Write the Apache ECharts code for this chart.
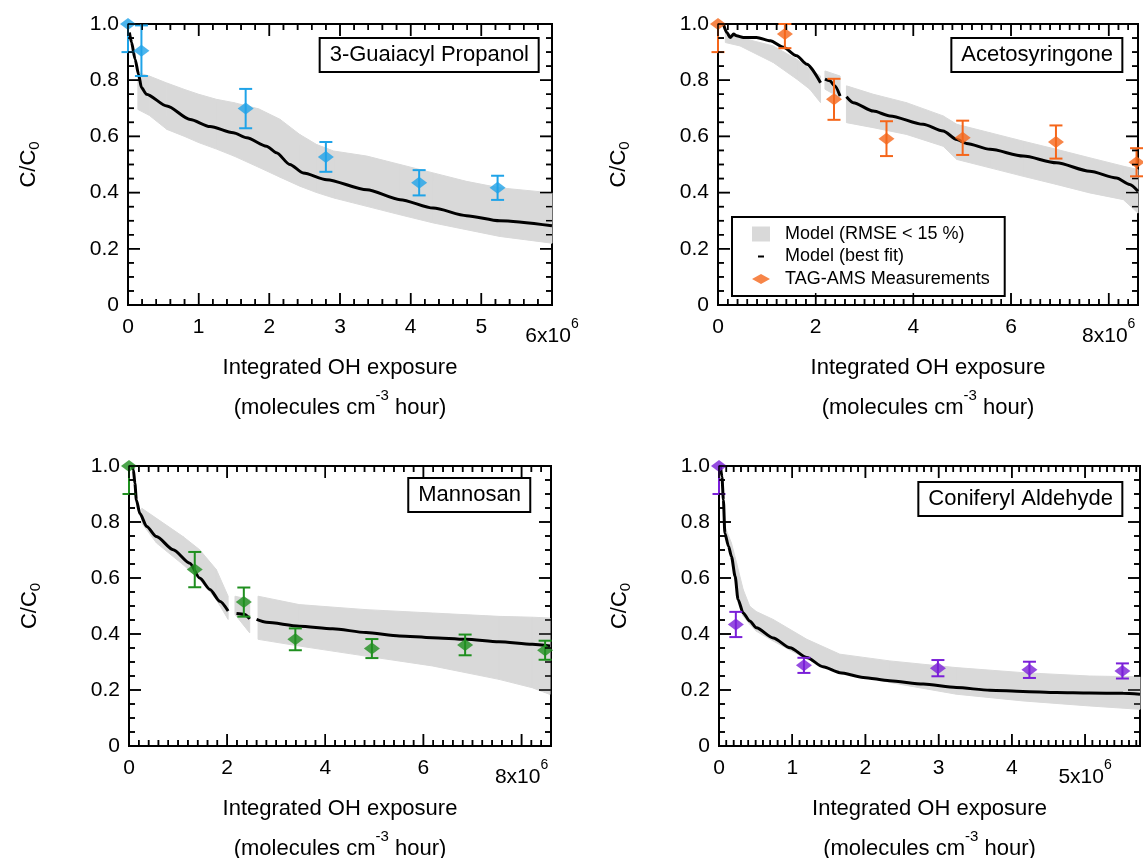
<!DOCTYPE html>
<html>
<head>
<meta charset="utf-8">
<script src="https://cdn.jsdelivr.net/npm/echarts@6/dist/echarts.min.js"></script>
<style>html,body{margin:0;padding:0;background:#fff}#c{width:1143px;height:858px;background:#fff}</style>
</head>
<body>
<div id="c"></div>
<script>
// ---------------- DATA (x in units of 1e6 molecules cm^-3 hour) ----------------
// Panel 1: 3-Guaiacyl Propanol
const gpLineX = [0.02, 0.05, 0.1, 0.15, 0.19, 0.26, 0.55, 0.88, 1.16, 1.49, 1.68, 1.96, 2.1, 2.29, 2.48, 2.81, 3.38, 3.85, 4.32, 4.79, 5.26, 6.0];
const gpLineY = [0.97, 0.935, 0.875, 0.82, 0.774, 0.75, 0.708, 0.66, 0.635, 0.613, 0.595, 0.565, 0.542, 0.5, 0.47, 0.446, 0.41, 0.375, 0.345, 0.318, 0.3, 0.282];
const gpBandX  = [0.14, 0.3, 0.55, 0.8, 1.0, 1.25, 1.5, 1.85, 2.15, 2.43, 2.67, 2.91, 3.38, 3.85, 4.32, 4.79, 5.26, 6.0];
const gpBandHi = [0.827, 0.815, 0.79, 0.767, 0.75, 0.732, 0.72, 0.698, 0.661, 0.607, 0.571, 0.548, 0.53, 0.5, 0.47, 0.44, 0.417, 0.399];
const gpBandLo = [0.696, 0.675, 0.625, 0.6, 0.578, 0.555, 0.53, 0.49, 0.455, 0.423, 0.4, 0.381, 0.351, 0.321, 0.292, 0.268, 0.244, 0.22];
const gpMeasX   = [0, 0.19, 1.665, 2.8, 4.12, 5.23];
const gpMeasY   = [1.0, 0.905, 0.699, 0.527, 0.435, 0.417];
const gpMeasErr = [0.1, 0.09, 0.07, 0.053, 0.045, 0.043];

// Panel 2: Acetosyringone (null = gap)
const asLineX = [0.11, 0.18, 0.25, 0.32, 0.38, 0.52, 0.79, 1.07, 1.34, 1.61, 1.82, 2.1, null, 2.19, 2.29, 2.39, 2.5, null, 2.63, 2.77, 3.18, 3.52, 4.2, 4.61, 4.89, 5.09, 5.57, 6.25, 6.93, 7.61, 8.16, 8.43, 8.6];
const asLineY = [1.0, 0.97, 0.952, 0.964, 0.958, 0.952, 0.952, 0.94, 0.917, 0.887, 0.857, 0.791, null, 0.804, 0.798, 0.78, 0.744, null, 0.741, 0.72, 0.69, 0.673, 0.643, 0.619, 0.589, 0.575, 0.554, 0.53, 0.506, 0.476, 0.452, 0.429, 0.405];
const asBandX  = [0.15, 0.45, 1.13, 1.61, 1.88, 2.1, null, 2.19, 2.5, null, 2.63, 3.18, 3.86, 4.61, 4.89, 5.57, 6.25, 6.93, 7.61, 8.3, 8.6];
const asBandHi = [0.97, 0.952, 0.922, 0.875, 0.839, 0.815, null, 0.833, 0.815, null, 0.78, 0.75, 0.72, 0.673, 0.643, 0.613, 0.583, 0.554, 0.524, 0.494, 0.482];
const asBandLo = [0.934, 0.922, 0.863, 0.804, 0.768, 0.72, null, 0.768, 0.738, null, 0.649, 0.631, 0.607, 0.565, 0.518, 0.488, 0.458, 0.429, 0.399, 0.375, 0.327];
const asMeasX   = [0, 1.37, 2.375, 3.45, 5.01, 6.92, 8.57];
const asMeasY   = [1.0, 0.964, 0.732, 0.592, 0.595, 0.58, 0.508];
const asMeasErr = [0.1, 0.05, 0.073, 0.062, 0.061, 0.059, 0.05];

// Panel 3: Mannosan
const mnLineX = [0.07, 0.09, 0.12, 0.15, 0.22, 0.36, 0.56, 0.9, 1.24, 1.44, 1.65, 1.85, 2.02, null, 2.19, 2.36, 2.46, null, 2.6, 2.8, 3.47, 4.15, 4.83, 5.51, 6.18, 6.86, 7.54, 8.22, 8.58];
const mnLineY = [1.0, 0.986, 0.938, 0.879, 0.831, 0.784, 0.748, 0.701, 0.653, 0.6, 0.559, 0.517, 0.482, null, 0.473, 0.47, 0.454, null, 0.452, 0.442, 0.428, 0.419, 0.405, 0.393, 0.387, 0.381, 0.372, 0.363, 0.357];
const mnBandX  = [0.26, 0.56, 1.1, 1.44, 1.78, 2.02, null, 2.16, 2.46, null, 2.63, 3.47, 4.83, 6.18, 7.54, 8.22, 8.58];
const mnBandHi = [0.849, 0.813, 0.748, 0.701, 0.63, 0.535, null, 0.535, 0.523, null, 0.535, 0.505, 0.487, 0.475, 0.463, 0.46, 0.457];
const mnBandLo = [0.796, 0.725, 0.648, 0.594, 0.523, 0.452, null, 0.47, 0.404, null, 0.381, 0.357, 0.321, 0.286, 0.238, 0.208, 0.184];
const mnMeasX   = [0, 1.34, 2.34, 3.39, 4.95, 6.85, 8.48];
const mnMeasY   = [1.0, 0.63, 0.514, 0.381, 0.348, 0.361, 0.342];
const mnMeasErr = [0.1, 0.063, 0.052, 0.039, 0.034, 0.037, 0.034];

// Panel 4: Coniferyl Aldehyde
const caLineX = [0.02, 0.04, 0.06, 0.08, 0.13, 0.17, 0.22, 0.26, 0.33, 0.42, 0.51, 0.74, 0.97, 1.2, 1.42, 1.65, 1.97, 2.33, 2.79, 3.24, 3.7, 4.15, 4.61, 5.06, 5.52, 5.75];
const caLineY = [1.0, 0.962, 0.879, 0.76, 0.713, 0.677, 0.606, 0.523, 0.475, 0.446, 0.422, 0.386, 0.351, 0.316, 0.283, 0.262, 0.245, 0.233, 0.221, 0.209, 0.199, 0.195, 0.191, 0.189, 0.188, 0.185];
const caBandX  = [0.08, 0.17, 0.24, 0.33, 0.42, 0.51, 0.74, 1.2, 1.65, 2.33, 3.24, 4.15, 5.06, 5.75];
const caBandHi = [0.784, 0.725, 0.654, 0.559, 0.499, 0.48, 0.452, 0.381, 0.328, 0.304, 0.28, 0.262, 0.25, 0.247];
const caBandLo = [0.748, 0.689, 0.559, 0.464, 0.435, 0.41, 0.375, 0.31, 0.268, 0.227, 0.185, 0.161, 0.143, 0.131];
const caMeasX   = [0, 0.23, 1.16, 2.99, 4.24, 5.51];
const caMeasY   = [1.0, 0.434, 0.288, 0.278, 0.272, 0.268];
const caMeasErr = [0.1, 0.045, 0.027, 0.029, 0.029, 0.027];

// Tick labels
const yTicks = [0, 0.2, 0.4, 0.6, 0.8, 1.0];
const gpXTicks = [0, 1, 2, 3, 4, 5, 6];
const asXTicks = [0, 2, 4, 6, 8];
const mnXTicks = [0, 2, 4, 6, 8];
const caXTicks = [0, 1, 2, 3, 4, 5];
const xExponent = '6';

const titles = ['3-Guaiacyl Propanol', 'Acetosyringone', 'Mannosan', 'Coniferyl Aldehyde'];
const legendNames = ['Model (RMSE < 15 %)', 'Model (best fit)', 'TAG-AMS Measurements'];

// ---------------- STYLE / LAYOUT ----------------
const FONT = 'Liberation Sans';
const BAND = '#d9d9d9';
const colors = ['#1fa3e8', '#f5661a', '#1f8f1f', '#7a1fd8'];
const MAJOR_LEN = 12, MINOR_LEN = 6;

const panels = [
  { grid: {left: 128, top: 24, width: 424, height: 281}, xMax: 6.0,  xTicks: gpXTicks, xMajor: 1, xMinor: 0.2,
    lineX: gpLineX, lineY: gpLineY, bandX: gpBandX, bandHi: gpBandHi, bandLo: gpBandLo, mX: gpMeasX, mY: gpMeasY, mE: gpMeasErr,
    title: {right: 604, top: 38} },
  { grid: {left: 718, top: 24, width: 420, height: 281}, xMax: 8.6,  xTicks: asXTicks, xMajor: 2, xMinor: 0.2,
    lineX: asLineX, lineY: asLineY, bandX: asBandX, bandHi: asBandHi, bandLo: asBandLo, mX: asMeasX, mY: asMeasY, mE: asMeasErr,
    title: {right: 20, top: 38} },
  { grid: {left: 129, top: 466, width: 422, height: 280}, xMax: 8.6, xTicks: mnXTicks, xMajor: 2, xMinor: 0.2,
    lineX: mnLineX, lineY: mnLineY, bandX: mnBandX, bandHi: mnBandHi, bandLo: mnBandLo, mX: mnMeasX, mY: mnMeasY, mE: mnMeasErr,
    title: {right: 612, top: 478} },
  { grid: {left: 719, top: 466, width: 421, height: 280}, xMax: 5.75, xTicks: caXTicks, xMajor: 1, xMinor: 0.1,
    lineX: caLineX, lineY: caLineY, bandX: caBandX, bandHi: caBandHi, bandLo: caBandLo, mX: caMeasX, mY: caMeasY, mE: caMeasErr,
    title: {right: 20, top: 482} }
];

function range(a, b, step) {
  const out = [];
  const n = Math.floor((b - a) / step + 1e-6);
  for (let i = 0; i <= n; i++) out.push(+(a + i * step).toFixed(6));
  return out;
}

function xAxisFor(g, p) {
  const last = p.xTicks[p.xTicks.length - 1];
  const isMajor = v => p.xTicks.some(m => Math.abs(m - v) < 1e-6);
  return {
    type: 'value', gridIndex: g, min: 0, max: p.xMax, interval: p.xMajor, position: 'bottom',
    splitLine: {show: false}, axisLine: {show: false, onZero: false}, axisTick: {show: false},
    axisLabel: {
      show: true, color: '#000', fontFamily: FONT, fontSize: 21, margin: 12,
      formatter: v => !isMajor(v) ? '' :
        (Math.abs(v - last) < 1e-9 ? '{b|' + v + 'x10}{s|' + xExponent + '}' : String(v)),
      rich: {
        b: {fontFamily: FONT, fontSize: 21, color: '#000', padding: [9, 0, 0, 0]},
        s: {fontFamily: FONT, fontSize: 14, color: '#000', verticalAlign: 'top'}
      }
    },
    name: 'Integrated OH exposure\n(molecules cm{sup|-3} hour)',
    nameLocation: 'middle', nameGap: 43,
    nameTextStyle: {
      fontFamily: FONT, fontSize: 22, color: '#000', lineHeight: 40,
      rich: { sup: {fontFamily: FONT, fontSize: 15, color: '#000', verticalAlign: 'top', lineHeight: 14} }
    }
  };
}

function yAxisFor(g) {
  const isMajor = v => yTicks.some(m => Math.abs(m - v) < 1e-6);
  return {
    type: 'value', gridIndex: g, min: 0, max: 1, interval: 0.2, position: 'left',
    splitLine: {show: false}, axisLine: {show: false, onZero: false}, axisTick: {show: false},
    axisLabel: {
      show: true, color: '#000', fontFamily: FONT, fontSize: 21, margin: 9,
      formatter: v => !isMajor(v) ? '' : (v === 0 ? '0' : v.toFixed(1))
    },
    name: 'C/C{sub|0}', nameLocation: 'middle', nameRotate: 90, nameGap: 86,
    nameTextStyle: {
      fontFamily: FONT, fontSize: 22, color: '#000', lineHeight: 26,
      rich: { sub: {fontFamily: FONT, fontSize: 15, color: '#000', verticalAlign: 'bottom', lineHeight: 14} }
    }
  };
}

// tick marks on all four sides, pointing inward: items [x, y, length, direction]
function tickData(p) {
  const out = [];
  const xMaj = range(0, p.xMax, p.xMajor);
  const xMin = range(0, p.xMax, p.xMinor).filter(v => !xMaj.some(m => Math.abs(m - v) < 1e-6));
  const yMaj = range(0, 1, 0.2);
  const yMin = range(0, 1, 0.05).filter(v => !yMaj.some(m => Math.abs(m - v) < 1e-6));
  xMaj.forEach(v => { out.push([v, 0, MAJOR_LEN, 0]); out.push([v, 1, MAJOR_LEN, 1]); });
  xMin.forEach(v => { out.push([v, 0, MINOR_LEN, 0]); out.push([v, 1, MINOR_LEN, 1]); });
  yMaj.forEach(v => { out.push([0, v, MAJOR_LEN, 2]); out.push([p.xMax, v, MAJOR_LEN, 3]); });
  yMin.forEach(v => { out.push([0, v, MINOR_LEN, 2]); out.push([p.xMax, v, MINOR_LEN, 3]); });
  return out;
}
const DIRS = [[0, -1], [0, 1], [1, 0], [-1, 0]];

function tickLine(pt, t) {
  const d = DIRS[Math.round(t[3])];
  return {
    type: 'line',
    shape: {x1: pt[0], y1: pt[1], x2: pt[0] + d[0] * t[2], y2: pt[1] + d[1] * t[2]},
    style: {stroke: '#000', lineWidth: 1.5}
  };
}

function tickRender(params, api) {
  const t = [api.value(0), api.value(1), api.value(2), api.value(3)];
  return tickLine(api.coord([t[0], t[1]]), t);
}

function bandRender(X, LO, HI, ticks) {
  return function (params, api) {
    const i = params.dataIndex;
    const ch = [];
    if (i + 1 < X.length && X[i] != null && X[i + 1] != null) {
      const pts = [
        api.coord([X[i], LO[i]]), api.coord([X[i + 1], LO[i + 1]]),
        api.coord([X[i + 1], HI[i + 1]]), api.coord([X[i], HI[i]])
      ];
      ch.push({type: 'polygon', shape: {points: pts}, style: {fill: BAND, stroke: BAND, lineWidth: 1}});
    }
    if (i === 0) ticks.forEach(t => ch.push(tickLine(api.coord([t[0], t[1]]), t)));
    return ch.length ? {type: 'group', children: ch} : null;
  };
}

function errRender(color, yMax) {
  return function (params, api) {
    const x = api.value(0), y = api.value(1), e = api.value(2);
    let hi = y + e;
    const lo = y - e;
    const capHi = hi <= yMax + 0.04;
    hi = Math.min(hi, yMax);
    const pH = api.coord([x, hi]), pL = api.coord([x, lo]);
    const w = 6.5;
    const st = {stroke: color, lineWidth: 2};
    const ch = [
      {type: 'line', shape: {x1: pH[0], y1: pH[1], x2: pL[0], y2: pL[1]}, style: st},
      {type: 'line', shape: {x1: pL[0] - w, y1: pL[1], x2: pL[0] + w, y2: pL[1]}, style: st}
    ];
    if (capHi) ch.push({type: 'line', shape: {x1: pH[0] - w, y1: pH[1], x2: pH[0] + w, y2: pH[1]}, style: st});
    return {type: 'group', children: ch};
  };
}

const grid = [], xAxis = [], yAxis = [], series = [], title = [], tickSeries = [];
panels.forEach((p, g) => {
  grid.push(Object.assign({show: true, borderColor: '#000', borderWidth: 2, backgroundColor: 'transparent',
    outerBoundsMode: 'none', containLabel: false}, p.grid));
  xAxis.push(xAxisFor(g, p));
  yAxis.push(yAxisFor(g));
  const isLegendPanel = g === 1;
  series.push({
    type: 'custom', name: isLegendPanel ? legendNames[0] : 'band' + g,
    xAxisIndex: g, yAxisIndex: g, z: 1, silent: true,
    itemStyle: {color: BAND},
    renderItem: bandRender(p.bandX, p.bandLo, p.bandHi, tickData(p)),
    encode: {x: 0, y: [1, 2]},
    data: p.bandX.map((x, i) => x == null ? ['-', '-', '-'] : [x, p.bandLo[i], p.bandHi[i]])
  });
  series.push({
    type: 'line', name: isLegendPanel ? legendNames[1] : 'line' + g,
    xAxisIndex: g, yAxisIndex: g, z: 2, showSymbol: false, silent: true,
    connectNulls: false, smooth: 0.25, smoothMonotone: 'x',
    itemStyle: {color: '#000'},
    lineStyle: {color: '#000', width: 3},
    data: p.lineX.map((x, i) => x == null ? ['-', '-'] : [x, p.lineY[i]])
  });
  series.push({
    type: 'custom', name: 'err' + g,
    xAxisIndex: g, yAxisIndex: g, z: 3, silent: true,
    itemStyle: {color: colors[g]},
    renderItem: errRender(colors[g], 1.0),
    encode: {x: 0, y: 1},
    data: p.mX.map((x, i) => [x, p.mY[i], p.mE[i]])
  });
  series.push({
    type: 'scatter', name: isLegendPanel ? legendNames[2] : 'meas' + g,
    xAxisIndex: g, yAxisIndex: g, z: 4, clip: false,
    symbol: 'diamond', symbolSize: [16, 12],
    itemStyle: {color: colors[g]},
    data: p.mX.map((x, i) => [x, p.mY[i]])
  });
  tickSeries.push({
    type: 'custom', name: 'ticks' + g, xAxisIndex: g, yAxisIndex: g, z: 5, silent: true, clip: false,
    itemStyle: {color: '#000'},
    renderItem: tickRender, encode: {x: 0, y: 1}, data: tickData(p)
  });
  title.push({
    text: titles[g], right: p.title.right, top: p.title.top,
    padding: [6, 10, 6, 10], borderColor: '#000', borderWidth: 2, backgroundColor: '#fff',
    textStyle: {fontFamily: FONT, fontSize: 22, fontWeight: 'normal', color: '#000'}
  });
});
series.push(...tickSeries);

const option = {
  animation: false,
  title: title,
  grid: grid,
  xAxis: xAxis,
  yAxis: yAxis,
  legend: {
    orient: 'vertical', left: 732, top: 217,
    padding: [8, 15, 8, 20], itemGap: 4.5, itemWidth: 18, itemHeight: 15,
    borderColor: '#000', borderWidth: 2, backgroundColor: '#fff',
    textStyle: {fontFamily: FONT, fontSize: 18, color: '#000', lineHeight: 18, padding: [0, 0, 0, 10]},
    data: [
      {name: legendNames[0], icon: 'rect', itemStyle: {color: BAND}},
      {name: legendNames[1], icon: 'path://M0,0Z M18,15Z M6,6.5 L12,6.5 L12,8.5 L6,8.5 Z', itemStyle: {color: '#000'}},
      {name: legendNames[2], icon: 'path://M0,0Z M18,15Z M0,7.5 L9,2.5 L18,7.5 L9,12.5 Z', itemStyle: {color: colors[1]}}
    ]
  },
  series: series
};

const chart = echarts.init(document.getElementById('c'), null, {renderer: 'canvas'});
chart.setOption(option);
</script>
</body>
</html>
